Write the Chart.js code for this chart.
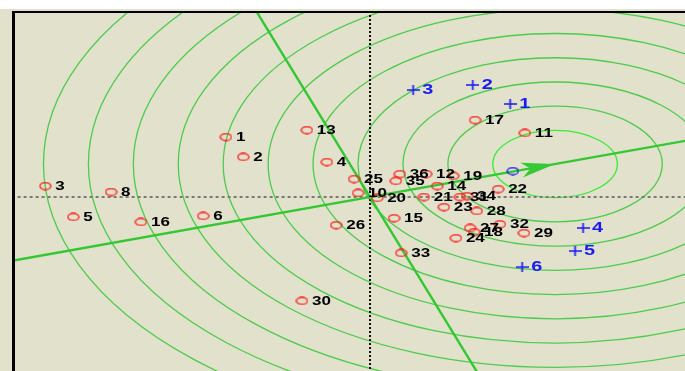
<!DOCTYPE html>
<html>
<head>
<meta charset="utf-8">
<script src="https://cdn.jsdelivr.net/npm/chart.js@4.4.1/dist/chart.umd.min.js"></script>
<style>
  html, body { margin: 0; padding: 0; background: #ffffff; }
  #wrap { width: 685px; height: 371px; position: relative; }
</style>
</head>
<body>
<div id="wrap"><canvas id="biplot" width="685" height="371"></canvas></div>
<script>
// Genotype scores on the two principal axes
const genotypeNames = ['1','2','3','4','5','6','8','10','11','12','13','14','15','16','17','18','19','20',
  '21','22','23','24','25','26','27','28','29','30','31','32','33','34','35','36'];
const genotypeX = [-3.24,-2.85,-7.30,-0.97,-6.67,-3.75,-5.82,-0.27,3.48,1.26,-1.42,1.51,0.54,-5.15,2.36,2.34,1.87,0.16,
  1.21,2.88,1.66,1.93,-0.36,-0.76,2.25,2.40,3.46,-1.53,2.02,2.92,0.70,2.18,0.58,0.67];
const genotypeY = [2.50,1.67,0.46,1.46,-0.83,-0.79,0.21,0.17,2.67,0.96,2.79,0.46,-0.88,-1.04,3.21,-1.46,0.88,-0.04,
  0.00,0.33,-0.42,-1.71,0.75,-1.17,-1.29,-0.58,-1.50,-4.33,0.00,-1.13,-2.33,0.04,0.67,0.96];

// Environment scores
const envNames = ['1','2','3','4','5','6'];
const envX = [3.15,2.31,0.97,4.79,4.61,3.42];
const envY = [3.88,4.67,4.46,-1.29,-2.25,-2.92];

// Average environment and the ideal genotype (centre of the rings)
const avgEnv = [3.21, 1.08];
const idealPoint = [4.16, 1.375];
const ringRadii = [1.40,2.41,3.42,4.43,5.44,6.45,7.46,8.47,9.48,10.49,11.50];

// Average-environment axis and its perpendicular, both through the origin
const aeaLine = [{x:-9, y:-2.975}, {x:8, y:2.644}];
const perpLine = [{x:-2.64, y:8}, {x:2.64, y:-8}];
const xAxisLine = [{x:-9, y:0}, {x:8, y:0}];
const yAxisLine = [{x:0, y:-8}, {x:0, y:8}];

const xRange = [-7.98, 7.08];
const yRange = [-7.25, 7.67];

const BG = '#E2E1CB';
const RED = '#FF1E1E';
const BLUE = '#1A1AF5';
const GREEN = 'rgb(50,200,50)';
const TEXT_STRETCH = 1.42;

function ellipseMarker(color, w, h) {
  const c = document.createElement('canvas');
  c.width = w + 2; c.height = h + 2;
  const g = c.getContext('2d');
  g.strokeStyle = color; g.lineWidth = 1.3;
  g.beginPath();
  g.ellipse((w + 2) / 2, (h + 2) / 2, w / 2, h / 2, 0, 0, Math.PI * 2);
  g.stroke();
  return c;
}
function plusMarker(color, w, h) {
  const c = document.createElement('canvas');
  c.width = w; c.height = h;
  const g = c.getContext('2d');
  g.strokeStyle = color; g.lineWidth = 1.7;
  g.beginPath();
  g.moveTo(0, h / 2); g.lineTo(w, h / 2);
  g.moveTo(w / 2, 0); g.lineTo(w / 2, h);
  g.stroke();
  return c;
}

const redRing = ellipseMarker(RED, 11, 7);
const blueRing = ellipseMarker(BLUE, 11, 7);
const bluePlus = plusMarker(BLUE, 13, 10);

const pts = (xs, ys) => xs.map((v, i) => ({x: v, y: ys[i]}));

const backgroundPlugin = {
  id: 'background',
  beforeDraw(chart) {
    const {ctx, width, height} = chart;
    ctx.save();
    ctx.fillStyle = BG;
    ctx.fillRect(0, 0, width, height);
    ctx.fillStyle = '#ffffff';
    ctx.fillRect(0, 0, width, 9);
    ctx.restore();
  }
};

const ringsPlugin = {
  id: 'rings',
  beforeDatasetsDraw(chart) {
    const {ctx, chartArea: a, scales: {x, y}} = chart;
    ctx.save();
    ctx.beginPath();
    ctx.rect(a.left, a.top, a.right - a.left, a.bottom - a.top);
    ctx.clip();
    const cx = x.getPixelForValue(idealPoint[0]);
    const cy = y.getPixelForValue(idealPoint[1]);
    ringRadii.forEach((r, i) => {
      const rx = x.getPixelForValue(idealPoint[0] + r) - cx;
      const ry = cy - y.getPixelForValue(idealPoint[1] + r);
      ctx.beginPath();
      ctx.ellipse(cx, cy, rx, ry, 0, 0, Math.PI * 2);
      ctx.strokeStyle = i === 0 ? 'rgb(55,235,55)' : 'rgb(76,204,76)';
      ctx.lineWidth = 1.3;
      ctx.stroke();
    });
    ctx.restore();
  }
};

function stretchedText(ctx, text, px, py) {
  ctx.save();
  ctx.translate(px, py);
  ctx.scale(TEXT_STRETCH, 1);
  ctx.fillText(text, 0, 0);
  ctx.restore();
}

const overlayPlugin = {
  id: 'overlay',
  afterDatasetsDraw(chart) {
    const {ctx, chartArea: a, scales: {x, y}} = chart;
    ctx.save();
    ctx.beginPath();
    ctx.rect(a.left, a.top, a.right - a.left, a.bottom - a.top);
    ctx.clip();

    // arrow head at the ideal point, pointing away from the origin
    const ox = x.getPixelForValue(0), oy = y.getPixelForValue(0);
    const tx = x.getPixelForValue(idealPoint[0]), ty = y.getPixelForValue(idealPoint[1]);
    const ang = Math.atan2(ty - oy, tx - ox);
    const len = 34, half = 7.5;
    const bx = tx - Math.cos(ang) * len, by = ty - Math.sin(ang) * len;
    const nx = -Math.sin(ang), ny = Math.cos(ang);
    ctx.beginPath();
    ctx.moveTo(tx, ty);
    ctx.lineTo(bx + nx * half, by + ny * half);
    ctx.lineTo(bx + Math.cos(ang) * 9, by + Math.sin(ang) * 9);
    ctx.lineTo(bx - nx * half, by - ny * half);
    ctx.closePath();
    ctx.fillStyle = 'rgb(55,200,55)';
    ctx.fill();

    // genotype labels
    ctx.fillStyle = '#000000';
    ctx.font = 'bold 12px "Liberation Sans", Arial, sans-serif';
    ctx.textBaseline = 'middle';
    ctx.textAlign = 'left';
    genotypeNames.forEach((n, i) => {
      stretchedText(ctx, n, x.getPixelForValue(genotypeX[i]) + 10, y.getPixelForValue(genotypeY[i]) + 0.5);
    });

    // environment labels
    ctx.fillStyle = BLUE;
    ctx.font = 'bold 14px "Liberation Sans", Arial, sans-serif';
    envNames.forEach((n, i) => {
      stretchedText(ctx, n, x.getPixelForValue(envX[i]) + 9, y.getPixelForValue(envY[i]) + 0.5);
    });
    ctx.restore();
  },
  afterDraw(chart) {
    const {ctx, chartArea: a} = chart;
    ctx.save();
    ctx.fillStyle = '#000000';
    ctx.fillRect(a.left - 3, a.top - 2, chart.width - a.left + 3, 2);
    ctx.fillRect(a.left - 3, a.top - 2, 3, chart.height - a.top + 2);
    ctx.restore();
  }
};

new Chart(document.getElementById('biplot'), {
  type: 'scatter',
  data: {
    datasets: [
      { label: 'Genotypes', data: pts(genotypeX, genotypeY), pointStyle: redRing, pointRadius: 5, order: 1 },
      { label: 'Environments', data: pts(envX, envY), pointStyle: bluePlus, pointRadius: 6, order: 1 },
      { label: 'Average environment', data: [{x: avgEnv[0], y: avgEnv[1]}], pointStyle: blueRing, pointRadius: 5, order: 1 },
      { label: 'AEA', data: aeaLine, showLine: true, borderColor: GREEN, borderWidth: 2.4, pointRadius: 0, order: 2 },
      { label: 'Perpendicular', data: perpLine, showLine: true, borderColor: GREEN, borderWidth: 2.4, pointRadius: 0, order: 2 },
      { label: 'Horizontal axis', data: xAxisLine, showLine: true, borderColor: '#7a7a7a', borderWidth: 2, borderDash: [3, 3], pointRadius: 0, order: 3 },
      { label: 'Vertical axis', data: yAxisLine, showLine: true, borderColor: '#111111', borderWidth: 2, borderDash: [2, 2], pointRadius: 0, order: 3 }
    ]
  },
  options: {
    responsive: false,
    animation: false,
    events: [],
    layout: { autoPadding: false, padding: { left: 15, top: 13, right: 0, bottom: 0 } },
    plugins: { legend: { display: false }, tooltip: { enabled: false } },
    scales: {
      x: { type: 'linear', display: false, min: xRange[0], max: xRange[1] },
      y: { type: 'linear', display: false, min: yRange[0], max: yRange[1] }
    }
  },
  plugins: [backgroundPlugin, ringsPlugin, overlayPlugin]
});
</script>
</body>
</html>
